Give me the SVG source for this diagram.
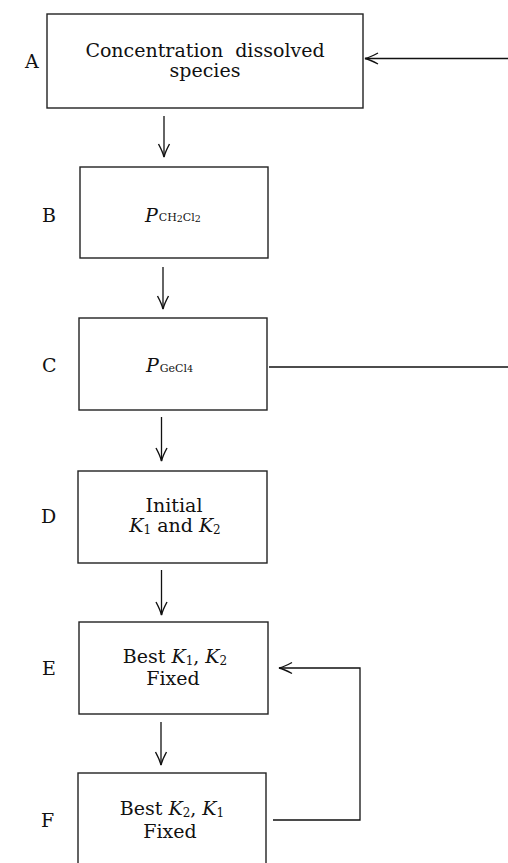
<svg xmlns="http://www.w3.org/2000/svg" width="508" height="863" viewBox="0 0 508 863">
<style>
.box{fill:none;stroke:#222;stroke-width:1.4}
.ln{fill:none;stroke:#111;stroke-width:1.3}
text{font-family:"DejaVu Serif","Liberation Serif",serif;fill:#111;font-size:19px}
.c{text-anchor:middle}
.i{font-style:italic}
.s{font-size:11px}
.d{font-size:9.5px}
.k{font-size:12px}
</style>
<defs>
<marker id="ah" markerUnits="userSpaceOnUse" markerWidth="20" markerHeight="14" viewBox="-14 -7 16 14" refX="0" refY="0" orient="auto">
<path d="M-13,-5.5 Q-5,-1.2 0,0 Q-5,1.2 -13,5.5" fill="none" stroke="#111" stroke-width="1.4"/>
</marker>
</defs>
<g id="labels">
<text x="25" y="68">A</text>
<text x="42" y="222">B</text>
<text x="42" y="372">C</text>
<text x="41" y="523">D</text>
<text x="42" y="675">E</text>
<text x="41" y="827">F</text>
</g>
<g id="nodeA">
<rect class="box" x="47" y="14" width="316" height="94"/>
<text class="c" x="205" y="57" word-spacing="6">Concentration dissolved</text>
<text class="c" x="205" y="77">species</text>
</g>
<g id="nodeB">
<rect class="box" x="80" y="167" width="188" height="91"/>
<text x="145" y="222"><tspan class="i">P</tspan><tspan class="s" dx="1" dy="-1">CH</tspan><tspan class="d" dy="1">2</tspan><tspan class="s" dy="-1">Cl</tspan><tspan class="d" dy="1">2</tspan></text>
</g>
<g id="nodeC">
<rect class="box" x="79" y="318" width="188" height="92"/>
<text x="146" y="372"><tspan class="i">P</tspan><tspan class="s" dx="1">GeCl</tspan><tspan class="d">4</tspan></text>
</g>
<g id="nodeD">
<rect class="box" x="78" y="471" width="189" height="92"/>
<text class="c" x="174" y="512">Initial</text>
<text class="c" x="175" y="532"><tspan class="i">K</tspan><tspan class="k" dy="2">1</tspan><tspan dy="-2"> and </tspan><tspan class="i">K</tspan><tspan class="k" dy="2">2</tspan></text>
</g>
<g id="nodeE">
<rect class="box" x="79" y="622" width="189" height="92"/>
<text class="c" x="175" y="663">Best <tspan class="i">K</tspan><tspan class="k" dy="2">1</tspan><tspan dy="-2">, </tspan><tspan class="i">K</tspan><tspan class="k" dy="2">2</tspan></text>
<text class="c" x="173" y="685">Fixed</text>
</g>
<g id="nodeF">
<rect class="box" x="78" y="773" width="188" height="100"/>
<text class="c" x="172" y="815">Best <tspan class="i">K</tspan><tspan class="k" dy="2">2</tspan><tspan dy="-2">, </tspan><tspan class="i">K</tspan><tspan class="k" dy="2">1</tspan></text>
<text class="c" x="170" y="838">Fixed</text>
</g>
<g id="connectors">
<line class="ln" x1="508" y1="58.5" x2="365" y2="58.5" marker-end="url(#ah)" style="stroke-width:1.7"/>
<line class="ln" x1="164" y1="116" x2="164" y2="157" marker-end="url(#ah)"/>
<line class="ln" x1="163" y1="267" x2="163" y2="309" marker-end="url(#ah)"/>
<line class="ln" x1="269" y1="367" x2="508" y2="367"/>
<line class="ln" x1="161.5" y1="417" x2="161.5" y2="461" marker-end="url(#ah)"/>
<line class="ln" x1="161.5" y1="570" x2="161.5" y2="615" marker-end="url(#ah)"/>
<line class="ln" x1="161" y1="722" x2="161" y2="765" marker-end="url(#ah)"/>
<polyline class="ln" points="273,820 360,820 360,668 279,668" marker-end="url(#ah)"/>
</g>
</svg>
